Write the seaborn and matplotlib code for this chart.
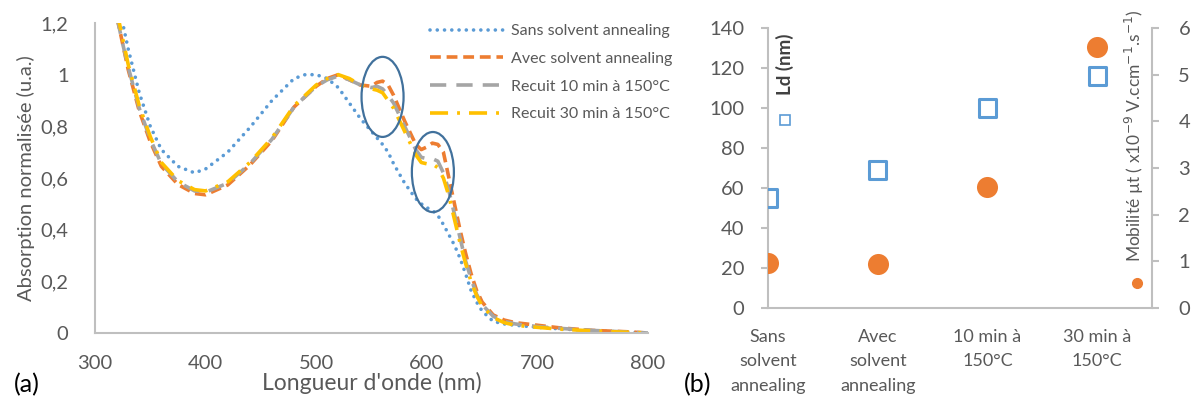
import matplotlib
matplotlib.use("Agg")
import matplotlib.pyplot as plt
from matplotlib.patches import Ellipse
import numpy as np
import pandas as pd
import seaborn as sns

# ---- (a) absorption spectra ----
wavelength = [320, 325, 330, 340, 350, 360, 375, 390, 400, 420, 440, 460, 480, 490,
              500, 510, 520, 530, 540, 550, 555, 560, 565, 570, 580, 590, 595, 600,
              605, 610, 615, 620, 625, 630, 635, 640, 645, 650, 660, 670, 680, 700,
              720, 750, 780, 800]
abs_sans = [1.40, 1.20, 1.10, 0.93, 0.80, 0.71, 0.645, 0.62, 0.635, 0.70, 0.795, 0.90, 0.985, 1.0,
            1.0, 0.985, 0.95, 0.89, 0.83, 0.78, 0.755, 0.73, 0.70, 0.655, 0.58, 0.52, 0.50, 0.485,
            0.475, 0.455, 0.42, 0.38, 0.34, 0.29, 0.23, 0.165, 0.12, 0.085, 0.045, 0.035, 0.03, 0.022,
            0.016, 0.009, 0.003, 0.0]
abs_avec = [1.22, 1.12, 1.02, 0.86, 0.74, 0.645, 0.575, 0.54, 0.535, 0.573, 0.65, 0.745, 0.875, 0.915,
            0.955, 0.985, 1.0, 0.98, 0.96, 0.955, 0.97, 0.975, 0.96, 0.92, 0.82, 0.73, 0.71, 0.72,
            0.735, 0.73, 0.70, 0.60, 0.50, 0.40, 0.31, 0.23, 0.165, 0.12, 0.07, 0.05, 0.04, 0.03,
            0.02, 0.01, 0.005, 0.0]
abs_10min = [1.22, 1.12, 1.03, 0.87, 0.75, 0.655, 0.585, 0.55, 0.545, 0.58, 0.655, 0.75, 0.875, 0.915,
             0.955, 0.98, 0.995, 0.98, 0.96, 0.95, 0.955, 0.945, 0.92, 0.89, 0.80, 0.71, 0.68, 0.675,
             0.675, 0.665, 0.62, 0.55, 0.46, 0.37, 0.28, 0.21, 0.15, 0.11, 0.065, 0.045, 0.035, 0.025,
             0.018, 0.01, 0.004, 0.0]
abs_30min = [1.24, 1.14, 1.04, 0.88, 0.76, 0.66, 0.59, 0.555, 0.55, 0.585, 0.66, 0.755, 0.88, 0.92,
             0.96, 0.985, 1.0, 0.985, 0.96, 0.945, 0.94, 0.93, 0.90, 0.87, 0.78, 0.69, 0.66, 0.655,
             0.655, 0.64, 0.60, 0.53, 0.44, 0.35, 0.27, 0.20, 0.145, 0.105, 0.06, 0.04, 0.03, 0.022,
             0.015, 0.008, 0.003, 0.0]
series_names = ["Sans solvent annealing", "Avec solvent annealing",
                "Recuit 10 min à 150°C", "Recuit 30 min à 150°C"]

# ---- (b) Ld and mobility ----
conditions = ["Sans\nsolvent\nannealing", "Avec\nsolvent\nannealing",
              "10 min à\n150°C", "30 min à\n150°C"]
ld_nm = [55, 69, 100, 116]
mobility = [0.97, 0.95, 2.6, 5.6]

BLUE, ORANGE, GREY, YELLOW = "#5b9bd5", "#ed7d31", "#a5a5a5", "#ffc000"
TXT = "#595959"
SPINE = "#bfbfbf"

sns.set_style("white")
plt.rcParams["font.family"] = ["Lato", "DejaVu Sans"]

W, H = 1193, 405
fig = plt.figure(figsize=(W / 100, H / 100), dpi=100)


def box(x0, y0, x1, y1):
    return [x0 / W, 1 - y1 / H, (x1 - x0) / W, (y1 - y0) / H]


def style_axes(ax, sides):
    for s, sp in ax.spines.items():
        sp.set_visible(s in sides)
        sp.set_color(SPINE)
        sp.set_linewidth(1.5)
    ax.tick_params(colors=TXT, length=5, width=1.5, color=SPINE, labelsize=14.5)


# (a)
ax1 = fig.add_axes(box(95, 23, 648, 333))
df = pd.DataFrame({
    "wl": wavelength * 4,
    "absorbance": abs_sans + abs_avec + abs_10min + abs_30min,
    "serie": np.repeat(series_names, len(wavelength)),
})
sns.lineplot(
    data=df, x="wl", y="absorbance", hue="serie", style="serie",
    palette=dict(zip(series_names, [BLUE, ORANGE, GREY, YELLOW])),
    dashes=dict(zip(series_names, [(0.01, 2.0), (3, 1.6), (4.5, 2.8), (5, 2.5, 0.8, 2.5)])),
    hue_order=series_names, style_order=series_names,
    linewidth=2.6, ax=ax1, estimator=None, sort=False,
)
for ln in ax1.lines:
    ln.set_dash_capstyle("round" if ln.get_color() == BLUE else "butt")
ax1.set_xlim(300, 800)
ax1.set_ylim(0, 1.2)
ax1.set_xticks(range(300, 801, 100))
yt = np.round(np.arange(0, 1.21, 0.2), 1)
ax1.set_yticks(yt)
ax1.set_yticklabels([("%g" % v).replace(".", ",") for v in yt])
style_axes(ax1, ["left", "bottom"])
ax1.tick_params(axis="x", pad=11)
ax1.tick_params(axis="y", pad=14)
ax1.set_xlabel("Longueur d'onde (nm)", fontsize=16.5, color=TXT, labelpad=0)
ax1.set_ylabel("Absorption normalisée (u.a.)", fontsize=14.5, color=TXT, labelpad=4)

for cx, cy in [(560, 0.914), (605.5, 0.623)]:
    ax1.add_patch(Ellipse((cx, cy), 38, 0.31, fill=False, edgecolor="#41719c", linewidth=1.6, zorder=5))

handles, labels = ax1.get_legend_handles_labels()
ax1.legend_.remove()
for h in handles:
    if h.get_color() == BLUE:
        h.set_dash_capstyle("round")
fig.legend(handles, labels, loc="upper left", bbox_to_anchor=(422 / W, 1 - 16 / H),
           frameon=False, fontsize=11.5, handlelength=4.6, handletextpad=0.5,
           labelspacing=0.85, borderpad=0, labelcolor=TXT)

# (b)
ax2 = fig.add_axes(box(768, 28, 1152, 308))
x_pos = list(range(len(conditions)))
sns.scatterplot(x=x_pos, y=ld_nm, marker="s", s=150, facecolor="none",
                edgecolor=BLUE, linewidth=2.2, ax=ax2, zorder=3)
ax2.set_xlim(0, 3.5)
ax2.set_ylim(0, 140)
ax2.set_yticks(range(0, 141, 20))
ax2.set_xticks(x_pos)
ax2.set_xticklabels(conditions, fontsize=13, linespacing=1.65)
style_axes(ax2, ["left", "bottom"])
ax2.tick_params(axis="x", pad=10, labelsize=13)
ax2.tick_params(axis="y", pad=12)
ax2.set_xlabel("")

ax3 = ax2.twinx()
sns.scatterplot(x=x_pos, y=mobility, marker="o", s=230, color=ORANGE,
                edgecolor=ORANGE, linewidth=0, ax=ax3, zorder=3)
ax3.set_ylim(0, 6)
ax3.set_yticks(range(0, 7))
style_axes(ax3, ["right"])
ax3.tick_params(axis="y", pad=14)
ax3.set_xlim(0, 3.5)

# in-plot series labels (Excel style)
ax2.text(0.044, 0.87, "Ld (nm)", transform=ax2.transAxes, rotation=90,
         ha="center", va="center", fontsize=13.5, color="#404040", fontweight="bold")
ax2.plot([0.044], [0.67], transform=ax2.transAxes, marker="s", ms=7,
         mfc="none", mec=BLUE, mew=1.2, clip_on=False)
ax3.text(0.955, 0.615, "Mobilité µt ( x10$^{-9}$ V.ccm$^{-1}$.s$^{-1}$)", transform=ax2.transAxes,
         rotation=90, ha="center", va="center", fontsize=12.5, color=TXT)
ax3.plot([0.962], [0.09], transform=ax2.transAxes, marker="o", ms=7,
         color=ORANGE, clip_on=False)

fig.text(14 / W, 1 - 385 / H, "(a)", fontsize=18, color="black", va="center")
fig.text(684 / W, 1 - 385 / H, "(b)", fontsize=18, color="black", va="center")

fig.savefig("out.png", dpi=100)
